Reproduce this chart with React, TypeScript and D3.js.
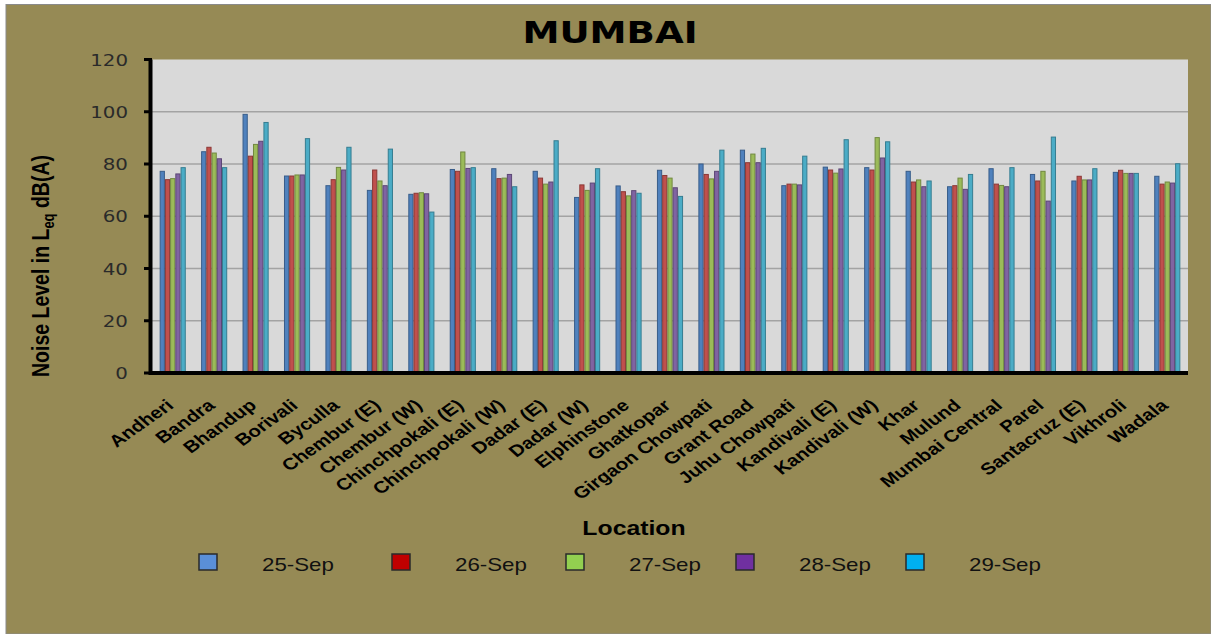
import React from 'react';
import * as d3 from 'd3';

const locations = [
  'Andheri', 'Bandra', 'Bhandup', 'Borivali', 'Byculla', 'Chembur (E)', 'Chembur (W)',
  'Chinchpokali (E)', 'Chinchpokali (W)', 'Dadar (E)', 'Dadar (W)', 'Elphinstone', 'Ghatkopar',
  'Girgaon Chowpati', 'Grant Road', 'Juhu Chowpati', 'Kandivali (E)', 'Kandivali (W)', 'Khar',
  'Mulund', 'Mumbai Central', 'Parel', 'Santacruz (E)', 'Vikhroli', 'Wadala',
];

const seriesNames = ['25-Sep', '26-Sep', '27-Sep', '28-Sep', '29-Sep'];

const sep25 = [77.2, 84.7, 99.0, 75.4, 71.7, 69.9, 68.4, 77.9, 78.2, 77.2, 67.2, 71.6, 77.6, 80.0, 85.3, 71.7, 78.8, 78.6, 77.2, 71.3, 78.2, 76.0, 73.5, 76.8, 75.3];
const sep26 = [74.0, 86.4, 83.0, 75.4, 74.0, 77.7, 68.8, 77.2, 74.4, 74.6, 72.0, 69.4, 75.6, 76.0, 80.5, 72.3, 77.7, 77.7, 73.1, 71.7, 72.3, 73.5, 75.3, 77.6, 72.3];
const sep27 = [74.4, 84.2, 87.5, 75.8, 78.7, 73.5, 69.0, 84.6, 74.6, 72.3, 69.9, 67.8, 74.6, 74.3, 83.8, 72.3, 76.5, 90.1, 73.9, 74.6, 71.8, 77.2, 73.9, 76.4, 73.1];
const sep28 = [76.2, 82.0, 88.7, 75.8, 77.7, 71.7, 68.6, 78.3, 76.0, 73.1, 72.7, 69.8, 70.9, 77.2, 80.5, 72.0, 78.1, 82.3, 71.3, 70.3, 71.3, 65.8, 73.9, 76.4, 72.7];
const sep29 = [78.6, 78.6, 95.9, 89.7, 86.4, 85.7, 61.6, 78.6, 71.3, 88.9, 78.2, 68.8, 67.6, 85.3, 86.0, 83.0, 89.3, 88.5, 73.5, 76.0, 78.6, 90.3, 78.2, 76.4, 80.1];

const yTicks = [0, 20, 40, 60, 80, 100, 120];

const series = [sep25, sep26, sep27, sep28, sep29];
const barFill = ['#4F81BD', '#C0504D', '#9BBB59', '#8064A2', '#4BACC6'];
const barStroke = ['#385D8A', '#8C3836', '#71893F', '#5C4776', '#357D91'];
const legendFill = ['#5A8FD8', '#C00000', '#92D050', '#7030A0', '#00B0F0'];
const legendX = [199, 392, 566, 736, 906];

const W = 1211;
const H = 634;
const plot = { left: 152, right: 1188, top: 59.5, bottom: 373 };
const STRETCH = 1.24;

export default function App() {
  const x = d3.scaleBand<string>()
    .domain(locations)
    .range([plot.left, plot.right])
    .paddingInner(0.37)
    .paddingOuter(0.185);
  const xs = d3.scaleBand<number>()
    .domain(d3.range(series.length))
    .range([0, x.bandwidth()]);
  const y = d3.scaleLinear().domain([0, 120]).range([plot.bottom, plot.top]);

  const arial = 'Liberation Sans, Arial, sans-serif';
  const dejavu = 'DejaVu Sans, Verdana, sans-serif';

  return (
    <svg width={W} height={H} style={{ position: 'absolute', left: 0, top: 0, background: '#fff' }}>
      <rect x={6} y={4.5} width={W - 6} height={H - 4.5} fill="#968A55" stroke="#8a8a8a" strokeWidth={1} />

      <text transform={`translate(610,43) scale(${STRETCH},1)`} textAnchor="middle"
        fontFamily={dejavu} fontWeight="bold" fontSize={30} fill="#000">MUMBAI</text>

      <rect x={plot.left} y={plot.top} width={plot.right - plot.left} height={plot.bottom - plot.top} fill="#D9D9D9" />

      {yTicks.filter(t => t > 0 && t < 120).map(t => (
        <line key={t} x1={plot.left} x2={plot.right} y1={y(t)} y2={y(t)} stroke="#A3A3A3" strokeWidth={1.5} />
      ))}

      {series.map((vals, si) => vals.map((v, i) => (
        <rect key={`${si}-${i}`}
          x={(x(locations[i]) ?? 0) + (xs(si) ?? 0) + 0.5}
          y={y(v)}
          width={xs.bandwidth() - 1}
          height={plot.bottom - y(v)}
          fill={barFill[si]} stroke={barStroke[si]} strokeWidth={1} />
      )))}

      {/* axes */}
      <line x1={plot.left - 1.5} x2={plot.left - 1.5} y1={plot.top} y2={plot.bottom + 2} stroke="#000" strokeWidth={4} />
      <line x1={plot.left - 3} x2={plot.right} y1={plot.bottom} y2={plot.bottom} stroke="#000" strokeWidth={4} />
      {yTicks.map(t => (
        <g key={t}>
          <line x1={plot.left - 8} x2={plot.left} y1={y(t)} y2={y(t)} stroke="#000" strokeWidth={3} />
          <text transform={`translate(128,${y(t) + 6}) scale(${STRETCH},1)`} textAnchor="end"
            fontFamily={dejavu} fontSize={16} fill="#2a2a2a">{t}</text>
        </g>
      ))}

      {locations.map(loc => {
        const cx = (x(loc) ?? 0) + x.bandwidth() / 2;
        return (
          <text key={loc} transform={`translate(${cx + 2},${plot.bottom + 34}) scale(${STRETCH},1) rotate(-41)`}
            textAnchor="end" fontFamily={arial} fontWeight="bold" fontSize={16.5} fill="#000">{loc}</text>
        );
      })}

      <text transform={`translate(49,266) scale(${STRETCH},1) rotate(-90)`} textAnchor="middle"
        fontFamily={arial} fontWeight="bold" fontSize={19.5} fill="#000">
        Noise Level in L<tspan fontSize={13} dy={4}>eq</tspan><tspan dy={-4}> dB(A)</tspan>
      </text>

      <text transform={`translate(634,535) scale(${STRETCH},1)`} textAnchor="middle"
        fontFamily={arial} fontWeight="bold" fontSize={20} fill="#000">Location</text>

      {seriesNames.map((name, i) => (
        <g key={name}>
          <rect x={legendX[i]} y={554} width={18} height={16} fill={legendFill[i]} stroke="#2a2a2a" strokeWidth={1.5} />
          <text transform={`translate(${legendX[i] + 63},571) scale(${STRETCH},1)`}
            fontFamily={arial} fontSize={18} fill="#111">{name}</text>
        </g>
      ))}
    </svg>
  );
}
